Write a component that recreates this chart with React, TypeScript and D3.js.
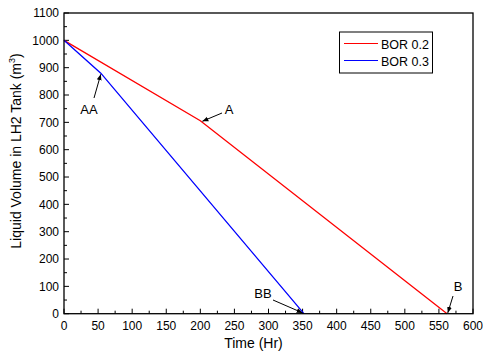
import React from "react";
import * as d3 from "d3";

const bor02Time = [0, 200, 562];
const bor02Vol = [1000, 706, 0];
const bor03Time = [0, 54, 352];
const bor03Vol = [1000, 880, 0];
const seriesNames = ["BOR 0.2", "BOR 0.3"];
const seriesColors = ["#ff0000", "#0000ff"];
const xTicks = [0, 50, 100, 150, 200, 250, 300, 350, 400, 450, 500, 550, 600];
const yTicks = [0, 100, 200, 300, 400, 500, 600, 700, 800, 900, 1000, 1100];
const annLabels = ["A", "AA", "B", "BB"];
const annTargets: [number, number][] = [[203, 704], [54, 876], [563, 3], [350, 3]];

export default function App() {
  const W = 483, H = 354;
  const L = 64, R = 473, T = 13, B = 313.7;
  const x = d3.scaleLinear().domain([0, 600]).range([L, R]);
  const y = d3.scaleLinear().domain([0, 1100]).range([B, T]);
  const line = d3.line<[number, number]>().x(d => x(d[0])).y(d => y(d[1]));
  const s1 = bor02Time.map((t, i) => [t, bor02Vol[i]] as [number, number]);
  const s2 = bor03Time.map((t, i) => [t, bor03Vol[i]] as [number, number]);
  const xMinor = d3.range(25, 600, 50);
  const yMinor = d3.range(50, 1100, 100);
  const font = "Liberation Sans, Arial, sans-serif";

  const labelPos: Record<string, [number, number, number, number]> = {
    A: [229, 114, 222, 113],
    AA: [89, 114, 94, 98],
    B: [458, 291, 453, 296],
    BB: [263, 298, 273, 300],
  };
  const arrows = annLabels.map((lab, i) => {
    const [tx, ty] = annTargets[i];
    return { lab, x2: x(tx), y2: y(ty) };
  });

  return (
    <svg width={W} height={H} style={{ position: "absolute", left: 0, top: 0, background: "#fff" }} fontFamily={font}>
      <defs>
        <marker id="ah" viewBox="0 0 10 10" refX="10" refY="5" markerWidth="6" markerHeight="6" orient="auto" markerUnits="userSpaceOnUse">
          <path d="M0,1 L10,5 L0,9 z" fill="#000" />
        </marker>
      </defs>
      <rect x={0} y={0} width={W} height={H} fill="#fff" />
      {xTicks.map(t => (
        <g key={"xt" + t}>
          <line x1={x(t)} x2={x(t)} y1={B} y2={B - 5} stroke="#000" strokeWidth={1} />
          <text x={x(t)} y={B + 16} fontSize={12} textAnchor="middle" fill="#000">{t}</text>
        </g>
      ))}
      {xMinor.map(t => (
        <line key={"xm" + t} x1={x(t)} x2={x(t)} y1={B} y2={B - 3} stroke="#000" strokeWidth={1} />
      ))}
      {yTicks.map(t => (
        <g key={"yt" + t}>
          <line x1={L} x2={L + 5} y1={y(t)} y2={y(t)} stroke="#000" strokeWidth={1} />
          <text x={L - 5} y={y(t) + 4.3} fontSize={12} textAnchor="end" fill="#000">{t}</text>
        </g>
      ))}
      {yMinor.map(t => (
        <line key={"ym" + t} x1={L} x2={L + 3} y1={y(t)} y2={y(t)} stroke="#000" strokeWidth={1} />
      ))}
      <path d={line(s1) || ""} fill="none" stroke={seriesColors[0]} strokeWidth={1.3} />
      <path d={line(s2) || ""} fill="none" stroke={seriesColors[1]} strokeWidth={1.3} />
      <rect x={L} y={T} width={R - L} height={B - T} fill="none" stroke="#000" strokeWidth={1.3} />
      {arrows.map(a => {
        const p = labelPos[a.lab];
        return (
          <g key={a.lab}>
            <text x={p[0]} y={p[1]} fontSize={13} textAnchor="middle" fill="#000">{a.lab}</text>
            <line x1={p[2]} y1={p[3]} x2={a.x2} y2={a.y2} stroke="#000" strokeWidth={1} markerEnd="url(#ah)" />
          </g>
        );
      })}
      <rect x={339.5} y={32} width={93} height={41} fill="#fff" stroke="#000" strokeWidth={1} />
      {seriesNames.map((n, i) => (
        <g key={n}>
          <line x1={344} x2={378} y1={43.5 + i * 17} y2={43.5 + i * 17} stroke={seriesColors[i]} strokeWidth={1} />
          <text x={381} y={48.5 + i * 17} fontSize={12.5} fill="#000">{n}</text>
        </g>
      ))}
      <text x={253.5} y={348} fontSize={14} textAnchor="middle" fill="#000">Time (Hr)</text>
      <text transform={`translate(20.5,151) rotate(-90)`} fontSize={14} textAnchor="middle" fill="#000">
        Liquid Volume in LH2 Tank (m<tspan dy={-6} fontSize={9}>3</tspan><tspan dy={6}>)</tspan>
      </text>
    </svg>
  );
}
